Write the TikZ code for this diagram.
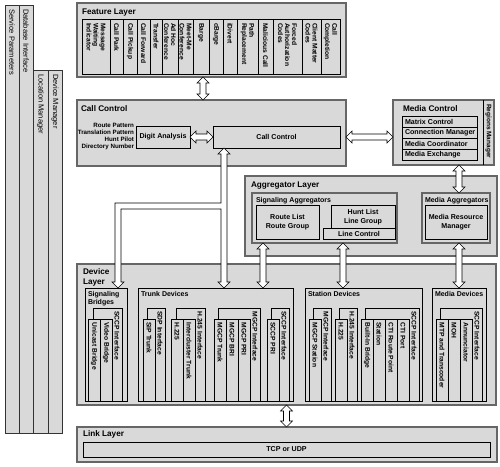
\documentclass[tikz,border=0pt]{standalone}
\usepackage{fontspec}
\setmainfont{Liberation Sans}
\usetikzlibrary{calc}
\definecolor{boxfill}{gray}{0.85}
\definecolor{edgegray}{gray}{0.40}
\tikzset{
  every node/.style={inner sep=0pt, outer sep=0pt},
  layerbox/.style={draw=edgegray, line width=1.7pt, fill=boxfill},
  groupbox/.style={draw=edgegray, line width=1.4pt, fill=boxfill},
  ibox/.style={draw=black, line width=0.65pt, fill=boxfill},
  subbox/.style={draw=black, line width=0.85pt, fill=boxfill},
  barbox/.style={draw=black!80, line width=0.6pt, fill=boxfill},
  ttl/.style={font=\fontsize{8.2}{10}\selectfont\bfseries, anchor=north west, align=left},
  sttl/.style={font=\fontsize{7}{8}\selectfont\bfseries, anchor=north west, align=left},
  ctxt/.style={font=\fontsize{7.1}{8.6}\selectfont\bfseries, align=center},
  ltxt/.style={font=\fontsize{7.1}{8.5}\selectfont\bfseries, anchor=west},
  vtxt/.style={font=\fontsize{6.7}{7.1}\selectfont\bfseries, rotate=-90, anchor=west, align=left},
  bartxt/.style={font=\fontsize{7.5}{9}\selectfont, rotate=-90, anchor=west},
  arr/.style={draw=black, line width=0.6pt, fill=white, line join=miter},
}
% box: style, name, x1, y1, x2, y2
\newcommand\bx[6]{\node[#1, anchor=north west, minimum width={(#5)-(#3)}, minimum height={(#6)-(#4)}] (#2) at (#3,#4) {};}
% feature column: name, x1, x2, text
\newcommand\fcol[4]{\bx{ibox}{#1}{#2}{19}{#3}{74}\node[vtxt] (#1-t) at ({(#2+#3)/2},23) {#4};}
% device front column: name, x1, x2, text
\newcommand\dcol[4]{\bx{ibox}{#1}{#2}{319}{#3}{401}\node[vtxt] (#1-t) at ({(#2+#3)/2},322.5) {#4};}
% device back box: name, x1, x2, strip-left, text
\newcommand\dback[5]{\bx{ibox}{#1}{#2}{308}{#3}{401}\node[vtxt] (#1-t) at ({(#4+#3)/2},311.5) {#5};}
% vertical hollow double arrow: top point (x used), bottom point (y used)
\newcommand\varr[2]{\draw[arr] let \p1=(#1), \p2=(#2) in
  (\x1,\y1) -- (\x1+6pt,\y1-6pt) -- (\x1+3pt,\y1-6pt) -- (\x1+3pt,\y2+6pt) -- (\x1+6pt,\y2+6pt) -- (\x1,\y2)
  -- (\x1-6pt,\y2+6pt) -- (\x1-3pt,\y2+6pt) -- (\x1-3pt,\y1-6pt) -- (\x1-6pt,\y1-6pt) -- cycle;}
% horizontal hollow double arrow: left point (y used), right point (x used)
\newcommand\harr[2]{\draw[arr] let \p1=(#1), \p2=(#2) in
  (\x1,\y1) -- (\x1+6pt,\y1+6pt) -- (\x1+6pt,\y1+3pt) -- (\x2-6pt,\y1+3pt) -- (\x2-6pt,\y1+6pt) -- (\x2,\y1)
  -- (\x2-6pt,\y1-6pt) -- (\x2-6pt,\y1-3pt) -- (\x1+6pt,\y1-3pt) -- (\x1+6pt,\y1-6pt) -- cycle;}
\begin{document}
\begin{tikzpicture}[x=1pt,y=-1pt]
\useasboundingbox (0,0) rectangle (500,466);
% ---------- left bars
\bx{barbox}{sp}{5}{5}{19}{433}
\bx{barbox}{dbi}{19}{5}{33}{433}
\bx{barbox}{lm}{33}{70}{48}{433}
\bx{barbox}{dm}{48}{70}{62}{433}
\node[bartxt] (sp-t) at (12,9) {Service Parameters};
\node[bartxt] (dbi-t) at (26,9) {Database Interface};
\node[bartxt] (lm-t) at (40.5,74) {Location Manager};
\node[bartxt] (dm-t) at (55,74) {Device Manager};
% ---------- feature layer
\bx{layerbox}{feat}{77}{3}{346}{77}
\node[ttl] (feat-t) at (82,9) {Feature Layer};
\fcol{f1}{82}{110}{Message\\Waiting\\Indicator}
\fcol{f2}{110}{123}{Call Park}
\fcol{f3}{123}{137}{Call Pickup}
\fcol{f4}{137}{150}{Call Forward}
\fcol{f5}{150}{162}{Transfer}
\fcol{f6}{162}{178}{Ad Hoc\\Conference}
\fcol{f7}{178}{193}{Meet-Me\\Conference}
\fcol{f8}{193}{209}{Barge}
\fcol{f9}{209}{223}{cBarge}
\fcol{f10}{223}{237}{iDivert}
\fcol{f11}{237}{258}{Path\\Replacement}
\fcol{f12}{258}{273}{Malicious Call}
\fcol{f13}{273}{302}{Forced\\Authorization\\Codes}
\fcol{f14}{302}{321}{Client Matter\\Codes}
\fcol{f15}{321}{340}{Call\\Completion}
% ---------- call control
\bx{layerbox}{cc}{77}{100}{346}{166}
\node[ttl] (cc-t) at (81,106) {Call Control};
\node[font=\fontsize{6.2}{6.9}\selectfont\bfseries, anchor=east, align=right] (dalbl) at (134,136.5) {Route Pattern\\Translation Pattern\\Hunt Pilot\\Directory Number};
\bx{ibox}{da}{136}{126}{190}{148}
\node[ctxt] (da-t) at (da) {Digit Analysis};
\bx{ibox}{ccin}{213}{126}{340}{148}
\node[ctxt] (ccin-t) at (ccin) {Call Control};
% ---------- media control
\bx{layerbox}{mc}{393}{100}{494}{165}
\draw[ibox] (483,100) -- (483,165);
\node[ttl] (mc-t) at (403,106) {Media Control};
\node[vtxt, font=\fontsize{6.5}{7}\selectfont\bfseries] (rm-t) at (488.5,104) {Regions Manager};
\bx{ibox}{mc1}{402}{116}{477}{127}
\bx{ibox}{mc2}{402}{127}{477}{138}
\bx{ibox}{mc3}{402}{138}{477}{149}
\bx{ibox}{mc4}{402}{149}{477}{160}
\node[ltxt] (mc1-t) at ($(mc1.west)+(3,0)$) {Matrix Control};
\node[ltxt] (mc2-t) at ($(mc2.west)+(3,0)$) {Connection Manager};
\node[ltxt] (mc3-t) at ($(mc3.west)+(3,0)$) {Media Coordinator};
\node[ltxt] (mc4-t) at ($(mc4.west)+(3,0)$) {Media Exchange};
% ---------- aggregator layer
\bx{layerbox}{agg}{245}{176}{497}{256}
\node[ttl] (agg-t) at (251,182) {Aggregator Layer};
\bx{groupbox}{sa}{252}{193}{397}{243}
\node[sttl] (sa-t) at (256,197) {Signaling Aggregators};
\bx{ibox}{rl}{256}{205}{319}{239}
\node[ctxt] (rl-t) at (rl) {Route List\\Route Group};
\bx{ibox}{hl}{331}{205}{395}{229}
\node[ctxt] (hl-t) at (hl) {Hunt List\\Line Group};
\bx{ibox}{lc}{323}{228}{395}{239}
\node[ctxt] (lc-t) at (lc) {Line Control};
\bx{groupbox}{ma}{422}{193}{490}{243}
\node[sttl] (ma-t) at (425,197) {Media Aggregators};
\bx{ibox}{mrm}{425}{205}{487}{239}
\node[ctxt] (mrm-t) at (mrm) {Media Resource\\Manager};
% ---------- device layer
\bx{layerbox}{devl}{77}{264}{496}{405}
\node[ttl] (devl-t) at (83,269) {Device\\Layer};
% signaling bridges
\bx{subbox}{sigb}{85}{288}{127}{401}
\node[sttl] (sigb-t) at (88,291) {Signaling\\Bridges};
\dback{sb0}{93}{122}{112}{SCCP Interface}
\dcol{sb1}{88}{100}{Unicast Bridge}
\dcol{sb2}{100}{112}{Video Bridge}
% trunk devices
\bx{subbox}{trunk}{138}{288}{293}{401}
\node[sttl] (trunk-t) at (141,291) {Trunk Devices};
\dback{tr0}{147}{165}{155}{SDP Interface}
\dcol{tr1}{143}{155}{SIP Trunk}
\dback{tr2}{176}{205}{195}{H.245 Interface}
\dcol{tr3}{171}{183}{H.225}
\dcol{tr4}{183}{195}{Intercluster Trunk}
\dback{tr5}{218}{260}{250}{MGCP Interface}
\dcol{tr6}{214}{226}{MGCP Trunk}
\dcol{tr7}{226}{238}{MGCP BRI}
\dcol{tr8}{238}{250}{MGCP PRI}
\dback{tr9}{271}{289}{279}{SCCP Interface}
\dcol{tr10}{267}{279}{SCCP PRI}
% station devices
\bx{subbox}{station}{305}{288}{422}{401}
\node[sttl] (station-t) at (308,291) {Station Devices};
\dback{st0}{313}{331}{321}{MGCP Interface}
\dcol{st1}{309}{321}{MGCP Station}
\dback{st2}{339}{357}{347}{H.245 Interface}
\dcol{st3}{335}{347}{H.225}
\dback{st4}{365}{419}{409}{SCCP Interface}
\dcol{st5}{361}{373}{Built-In Bridge}
\dcol{st6}{373}{385}{Station}
\dcol{st7}{385}{397}{CTI Route Point}
\dcol{st8}{397}{409}{CTI Port}
% media devices
\bx{subbox}{media}{432}{288}{486}{401}
\node[sttl] (media-t) at (435,291) {Media Devices};
\dback{md0}{440}{482}{472}{SCCP Interface}
\dcol{md1}{436}{448}{MTP and Transcoder}
\dcol{md2}{448}{460}{MOH}
\dcol{md3}{460}{472}{Annunciator}
% ---------- link layer
\bx{layerbox}{link}{77}{427}{497}{462}
\node[ttl] (link-t) at (83,431) {Link Layer};
\bx{ibox}{tcp}{83}{442}{490}{457}
\node[ctxt] (tcp-t) at (tcp) {TCP or UDP};
% ---------- arrows
\varr{$(feat.south west)+(126,0)$}{cc.north}
\harr{da.east}{ccin.west}
\harr{ccin.east -| cc.east}{ccin.east -| mc.west}
\coordinate (a4top) at ($(ccin.south west)+(11,0)$);
\coordinate (a4bot) at (a4top |- trunk.north);
\coordinate (sbtip) at ($(sigb.north)+(12,0)$);
\coordinate (brk) at ($(a4top)!0.5!(a4top |- devl.north)$);
\draw[arr] let \p1=(a4top), \p2=(a4bot), \p3=(sbtip), \p4=(brk) in
  (\x1,\y1) -- (\x1+6pt,\y1-6pt) -- (\x1+3pt,\y1-6pt) -- (\x1+3pt,\y2+6pt) -- (\x1+6pt,\y2+6pt) -- (\x1,\y2)
  -- (\x1-6pt,\y2+6pt) -- (\x1-3pt,\y2+6pt) -- (\x1-3pt,\y4-3pt) -- (\x3+3pt,\y4-3pt) -- (\x3+3pt,\y3+6pt)
  -- (\x3+6pt,\y3+6pt) -- (\x3,\y3) -- (\x3-6pt,\y3+6pt) -- (\x3-3pt,\y3+6pt) -- (\x3-3pt,\y4+3pt)
  -- (\x1-3pt,\y4+3pt) -- (\x1-3pt,\y1-6pt) -- (\x1-6pt,\y1-6pt) -- cycle;
\varr{mc.south -| media.north}{ma.north}
\varr{$(sa.south west)+(11,0)$}{trunk.north}
\varr{$(sa.south west)+(91,0)$}{station.north}
\varr{ma.south -| media.north}{media.north}
\varr{devl.south}{link.north}
\end{tikzpicture}
\end{document}
